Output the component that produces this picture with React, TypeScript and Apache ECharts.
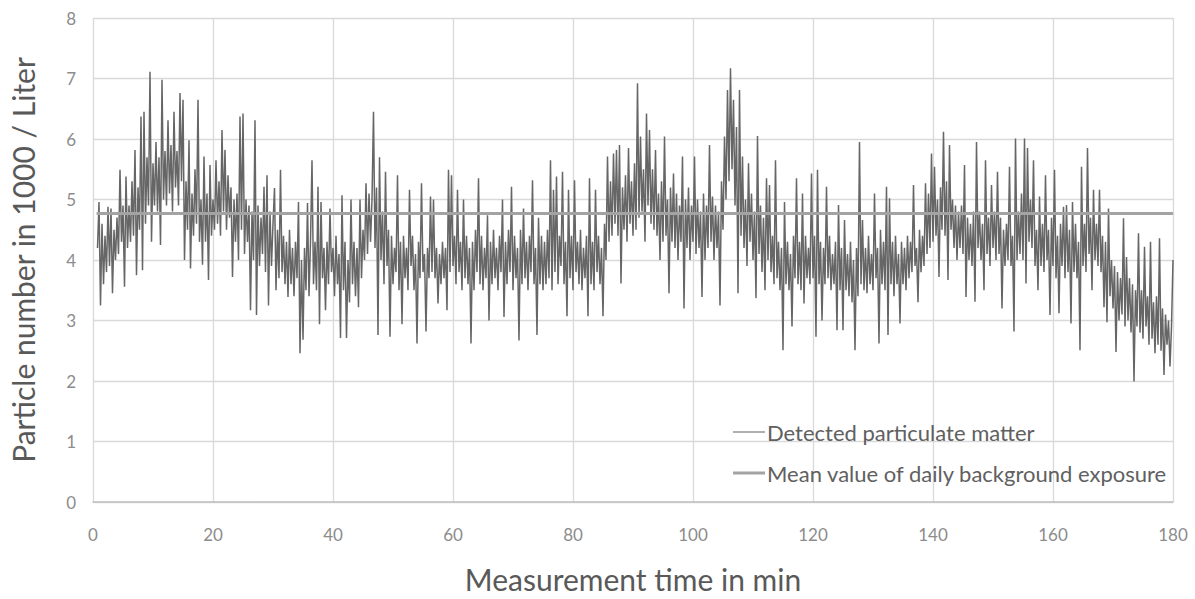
import React, { useEffect, useRef } from "react";
import * as echarts from "echarts";

// Sampling of the detected series (minutes)
const START_MIN = 0.75;
const STEP_MIN = 0.25;

// Detected particulate matter (1000 / Liter), 15-minute blocks
const detected_000_015 = [4.2, 4.96, 3.25, 4.6, 3.6, 4.4, 3.8, 4.88, 3.9, 4.85, 3.45, 4.5, 4.0, 4.7, 4.1, 5.49, 4.3, 4.9, 3.56, 5.38, 4.2, 4.9, 4.3, 5.3, 4.4, 5.82, 3.75, 5.2, 4.5, 6.37, 3.83, 6.45, 4.6, 5.7, 4.9, 7.11, 4.3, 5.6, 4.9, 5.95, 4.8, 5.7, 4.25, 6.98, 5.0, 5.8, 4.9, 6.31, 5.1, 5.9, 4.8, 6.45, 5.2, 5.8, 4.9, 6.76, 5.3, 6.65];
const detected_015_030 = [4.0, 5.3, 4.5, 5.98, 3.86, 5.1, 4.4, 5.5, 4.6, 6.65, 4.3, 5.0, 3.92, 5.71, 4.3, 5.1, 3.67, 5.57, 4.4, 5.0, 4.5, 5.65, 4.6, 5.3, 4.4, 6.15, 4.8, 5.82, 4.5, 5.4, 4.7, 5.2, 3.72, 5.0, 4.3, 5.1, 4.0, 6.37, 4.5, 6.42, 4.1, 5.0, 4.3, 4.9, 3.17, 4.8, 4.0, 6.31, 3.09, 4.9, 3.9, 4.7, 4.1, 5.21, 3.8, 5.4, 3.25, 4.8, 3.9, 4.6];
const detected_030_045 = [5.19, 3.5, 4.5, 3.7, 5.49, 3.8, 4.4, 3.6, 4.3, 3.39, 4.5, 3.6, 4.2, 3.4, 4.3, 3.7, 4.96, 2.46, 4.0, 2.68, 4.2, 3.5, 4.94, 3.4, 4.3, 5.65, 3.6, 4.3, 3.5, 5.21, 2.94, 4.96, 3.7, 4.2, 3.17, 4.3, 3.6, 4.85, 3.8, 4.2, 3.4, 4.4, 3.6, 4.1, 2.71, 5.07, 3.5, 4.3, 2.71, 4.0, 3.3, 5.0, 3.6, 4.3, 3.4, 4.2, 3.22, 5.0, 3.7, 4.5];
const detected_045_060 = [4.0, 5.27, 4.1, 5.1, 4.3, 5.0, 6.45, 4.2, 5.2, 2.76, 5.7, 4.0, 4.8, 3.6, 5.46, 3.9, 4.5, 2.73, 4.4, 3.6, 4.2, 3.8, 5.4, 3.5, 4.3, 2.94, 4.4, 3.7, 4.2, 3.5, 5.16, 3.9, 4.4, 3.5, 4.1, 2.62, 4.3, 3.7, 5.27, 3.8, 4.1, 2.82, 4.2, 3.7, 5.05, 3.8, 5.0, 3.7, 4.2, 3.28, 4.1, 3.6, 4.3, 3.7, 4.2, 3.17, 5.49, 3.8, 5.4, 3.9];
const detected_060_075 = [4.4, 3.6, 5.16, 3.8, 4.3, 3.5, 5.0, 3.7, 4.4, 3.6, 4.2, 2.62, 4.3, 3.5, 4.5, 3.8, 5.35, 3.6, 4.4, 3.5, 4.2, 3.7, 4.74, 3.0, 4.3, 3.6, 4.5, 3.7, 4.2, 3.5, 4.4, 3.8, 5.0, 3.06, 4.3, 3.6, 4.5, 3.8, 5.21, 3.5, 4.4, 3.7, 4.2, 2.67, 4.5, 3.6, 4.85, 3.7, 4.3, 3.5, 4.4, 3.8, 5.32, 3.6, 4.2, 2.76, 4.7, 3.6, 4.4, 3.5];
const detected_075_090 = [4.3, 3.6, 4.5, 3.7, 5.65, 3.5, 5.16, 3.8, 5.38, 3.6, 4.4, 3.9, 5.46, 3.6, 4.3, 3.07, 5.16, 3.7, 4.4, 3.5, 5.32, 3.8, 4.3, 3.6, 4.5, 3.5, 4.2, 3.7, 4.4, 3.07, 5.35, 3.6, 4.3, 3.5, 5.16, 3.8, 4.4, 3.6, 4.2, 3.07, 4.6, 4.0, 5.71, 4.3, 5.3, 4.4, 5.76, 4.6, 5.82, 4.4, 5.9, 3.61, 5.2, 4.5, 5.4, 4.3, 5.85, 4.6, 5.3, 4.4];
const detected_090_105 = [5.6, 4.5, 6.92, 4.7, 6.04, 4.8, 5.5, 4.3, 6.42, 4.9, 6.15, 4.6, 5.5, 4.5, 5.82, 4.4, 5.1, 4.0, 5.3, 4.3, 6.04, 4.4, 5.0, 3.45, 5.2, 4.3, 5.43, 4.2, 5.1, 4.0, 4.9, 4.3, 5.71, 3.2, 5.0, 4.2, 5.2, 4.0, 4.9, 4.3, 5.71, 4.1, 5.0, 4.2, 4.8, 3.39, 5.1, 4.0, 4.9, 4.2, 5.9, 4.3, 5.05, 4.0, 4.9, 4.2, 4.8, 3.25, 5.3, 4.5];
const detected_105_120 = [6.04, 5.0, 6.81, 5.3, 7.17, 5.5, 6.65, 4.9, 6.2, 3.45, 6.81, 4.4, 5.71, 4.2, 5.0, 3.9, 5.6, 4.3, 5.1, 4.0, 4.8, 3.37, 6.05, 4.1, 4.9, 3.8, 4.7, 3.5, 5.35, 4.0, 5.24, 3.8, 4.4, 3.6, 5.65, 3.7, 4.3, 3.5, 4.2, 2.51, 4.96, 3.6, 4.3, 3.5, 4.1, 2.9, 4.4, 3.7, 5.35, 3.6, 4.3, 3.5, 5.1, 3.28, 4.4, 3.7, 4.2, 3.6, 5.43, 3.7];
const detected_120_135 = [4.4, 2.73, 5.49, 3.6, 4.3, 3.0, 4.2, 3.6, 5.21, 3.7, 4.4, 3.5, 4.1, 3.6, 4.3, 2.84, 4.91, 3.5, 4.2, 2.84, 4.66, 3.5, 4.1, 3.4, 4.3, 3.3, 4.0, 2.51, 4.2, 3.4, 5.95, 3.6, 4.66, 3.5, 4.2, 3.45, 4.4, 3.6, 4.1, 3.5, 5.1, 3.7, 4.2, 2.62, 4.5, 3.6, 4.3, 3.5, 5.21, 2.76, 5.02, 3.6, 4.3, 3.4, 4.4, 3.6, 4.1, 2.95, 4.3, 3.6];
const detected_135_150 = [4.2, 3.5, 4.4, 3.7, 4.3, 3.8, 5.24, 3.9, 4.2, 3.3, 4.5, 3.8, 4.4, 3.9, 5.27, 4.1, 5.1, 4.2, 5.76, 4.3, 5.54, 4.4, 5.0, 3.72, 5.2, 4.5, 6.12, 4.4, 5.3, 3.67, 5.9, 4.5, 5.0, 4.2, 4.9, 4.0, 4.8, 4.2, 4.9, 4.1, 5.57, 3.39, 4.7, 4.0, 4.6, 3.9, 4.8, 3.31, 5.95, 4.2, 4.8, 4.0, 4.6, 3.5, 5.65, 4.1, 4.7, 3.9, 5.24, 4.2];
const detected_150_165 = [4.8, 4.0, 5.46, 4.1, 4.7, 3.2, 4.5, 3.9, 4.6, 4.0, 5.54, 3.9, 4.4, 2.82, 6.01, 4.0, 4.8, 4.1, 5.1, 4.0, 6.01, 3.61, 5.85, 4.3, 5.0, 4.2, 5.65, 3.9, 4.5, 3.5, 5.05, 3.9, 4.6, 3.8, 5.4, 4.0, 4.5, 3.09, 4.7, 3.9, 5.49, 3.7, 4.4, 3.12, 4.6, 3.9, 4.88, 3.7, 4.91, 3.8, 4.5, 2.95, 4.96, 3.8, 4.6, 3.7, 4.3, 2.51, 5.54, 3.9];
const detected_165_180 = [4.6, 3.8, 5.85, 4.1, 4.7, 3.5, 5.16, 4.0, 4.6, 3.9, 5.16, 3.8, 4.4, 3.22, 4.3, 2.97, 4.85, 3.4, 4.0, 3.2, 3.9, 2.48, 3.8, 3.0, 3.7, 3.1, 4.69, 2.9, 4.05, 3.0, 3.7, 2.8, 3.6, 1.99, 3.5, 2.9, 4.44, 2.8, 3.5, 2.7, 4.22, 2.9, 3.4, 2.6, 4.3, 2.7, 3.3, 2.46, 3.4, 2.6, 4.36, 2.5, 3.2, 2.1, 3.1, 2.6, 3.0, 2.24, 2.9, 4.0];

// Mean value of daily background exposure
const MEAN_VALUE = 4.77;
const MEAN_START_MIN = 0.6;
const MEAN_END_MIN = 180;

// Axes
const X_MIN = 0, X_MAX = 180, X_STEP = 20;
const Y_MIN = 0, Y_MAX = 8, Y_STEP = 1;

const SERIES_DETECTED = "Detected particulate matter";
const SERIES_MEAN = "Mean value of daily background exposure";

export default function App() {
  const ref = useRef<HTMLDivElement>(null);

  useEffect(() => {
    if (!ref.current) return;
    document.body.style.margin = "0";
    const chart = echarts.init(ref.current, null, { renderer: "svg" });

    const values = [
      ...detected_000_015, ...detected_015_030, ...detected_030_045,
      ...detected_045_060, ...detected_060_075, ...detected_075_090,
      ...detected_090_105, ...detected_105_120, ...detected_120_135,
      ...detected_135_150, ...detected_150_165, ...detected_165_180,
    ];
    const detected = values.map((v, i) => [START_MIN + i * STEP_MIN, v]);
    const mean = [[MEAN_START_MIN, MEAN_VALUE], [MEAN_END_MIN, MEAN_VALUE]];

    chart.setOption({
      animation: false,
      backgroundColor: "#ffffff",
      grid: { left: 93, right: 22, top: 18, bottom: 97, containLabel: false },
      legend: {
        orient: "vertical",
        left: 728,
        top: 416,
        itemWidth: 32,
        itemHeight: 14,
        itemGap: 19,
        data: [
          { name: SERIES_DETECTED, icon: "path://M0,6.5 L32,6.5 L32,7.5 L0,7.5 Z", itemStyle: { color: "#5e5e5e" } },
          { name: SERIES_MEAN, icon: "path://M0,5.5 L32,5.5 L32,8.5 L0,8.5 Z", itemStyle: { color: "#a3a3a3" } },
        ],
        textStyle: { color: "#606060", fontFamily: "Lato", fontSize: 22, padding: [0, 0, 0, -3] },
      },
      xAxis: {
        type: "value",
        min: X_MIN,
        max: X_MAX,
        interval: X_STEP,
        name: "Measurement time in min",
        nameLocation: "middle",
        nameGap: 62,
        nameTextStyle: { color: "#595959", fontFamily: "Lato", fontSize: 30 },
        axisLine: { show: true, lineStyle: { color: "#bfbfbf", width: 1.5 } },
        axisTick: { show: false },
        axisLabel: { color: "#8c8c8c", fontFamily: "Lato", fontSize: 17, margin: 24 },
        splitLine: { show: true, lineStyle: { color: "#d9d9d9", width: 1.3 } },
      },
      yAxis: {
        type: "value",
        min: Y_MIN,
        max: Y_MAX,
        interval: Y_STEP,
        name: "Particle number in 1000 / Liter",
        nameLocation: "middle",
        nameGap: 55,
        nameTextStyle: { color: "#595959", fontFamily: "Lato", fontSize: 30 },
        axisLine: { show: false },
        axisTick: { show: false },
        axisLabel: { color: "#8c8c8c", fontFamily: "Lato", fontSize: 17, margin: 17 },
        splitLine: { show: true, lineStyle: { color: "#d9d9d9", width: 1.3 } },
      },
      series: [
        {
          name: SERIES_DETECTED,
          type: "line",
          data: detected,
          symbol: "none",
          lineStyle: { color: "#666666", width: 1.5 },
          itemStyle: { color: "#5e5e5e" },
        },
        {
          name: SERIES_MEAN,
          type: "line",
          data: mean,
          symbol: "none",
          lineStyle: { color: "#a3a3a3", width: 3 },
          itemStyle: { color: "#a3a3a3" },
        },
      ],
    });

    return () => chart.dispose();
  }, []);

  return <div ref={ref} style={{ width: 1195, height: 599 }} />;
}
